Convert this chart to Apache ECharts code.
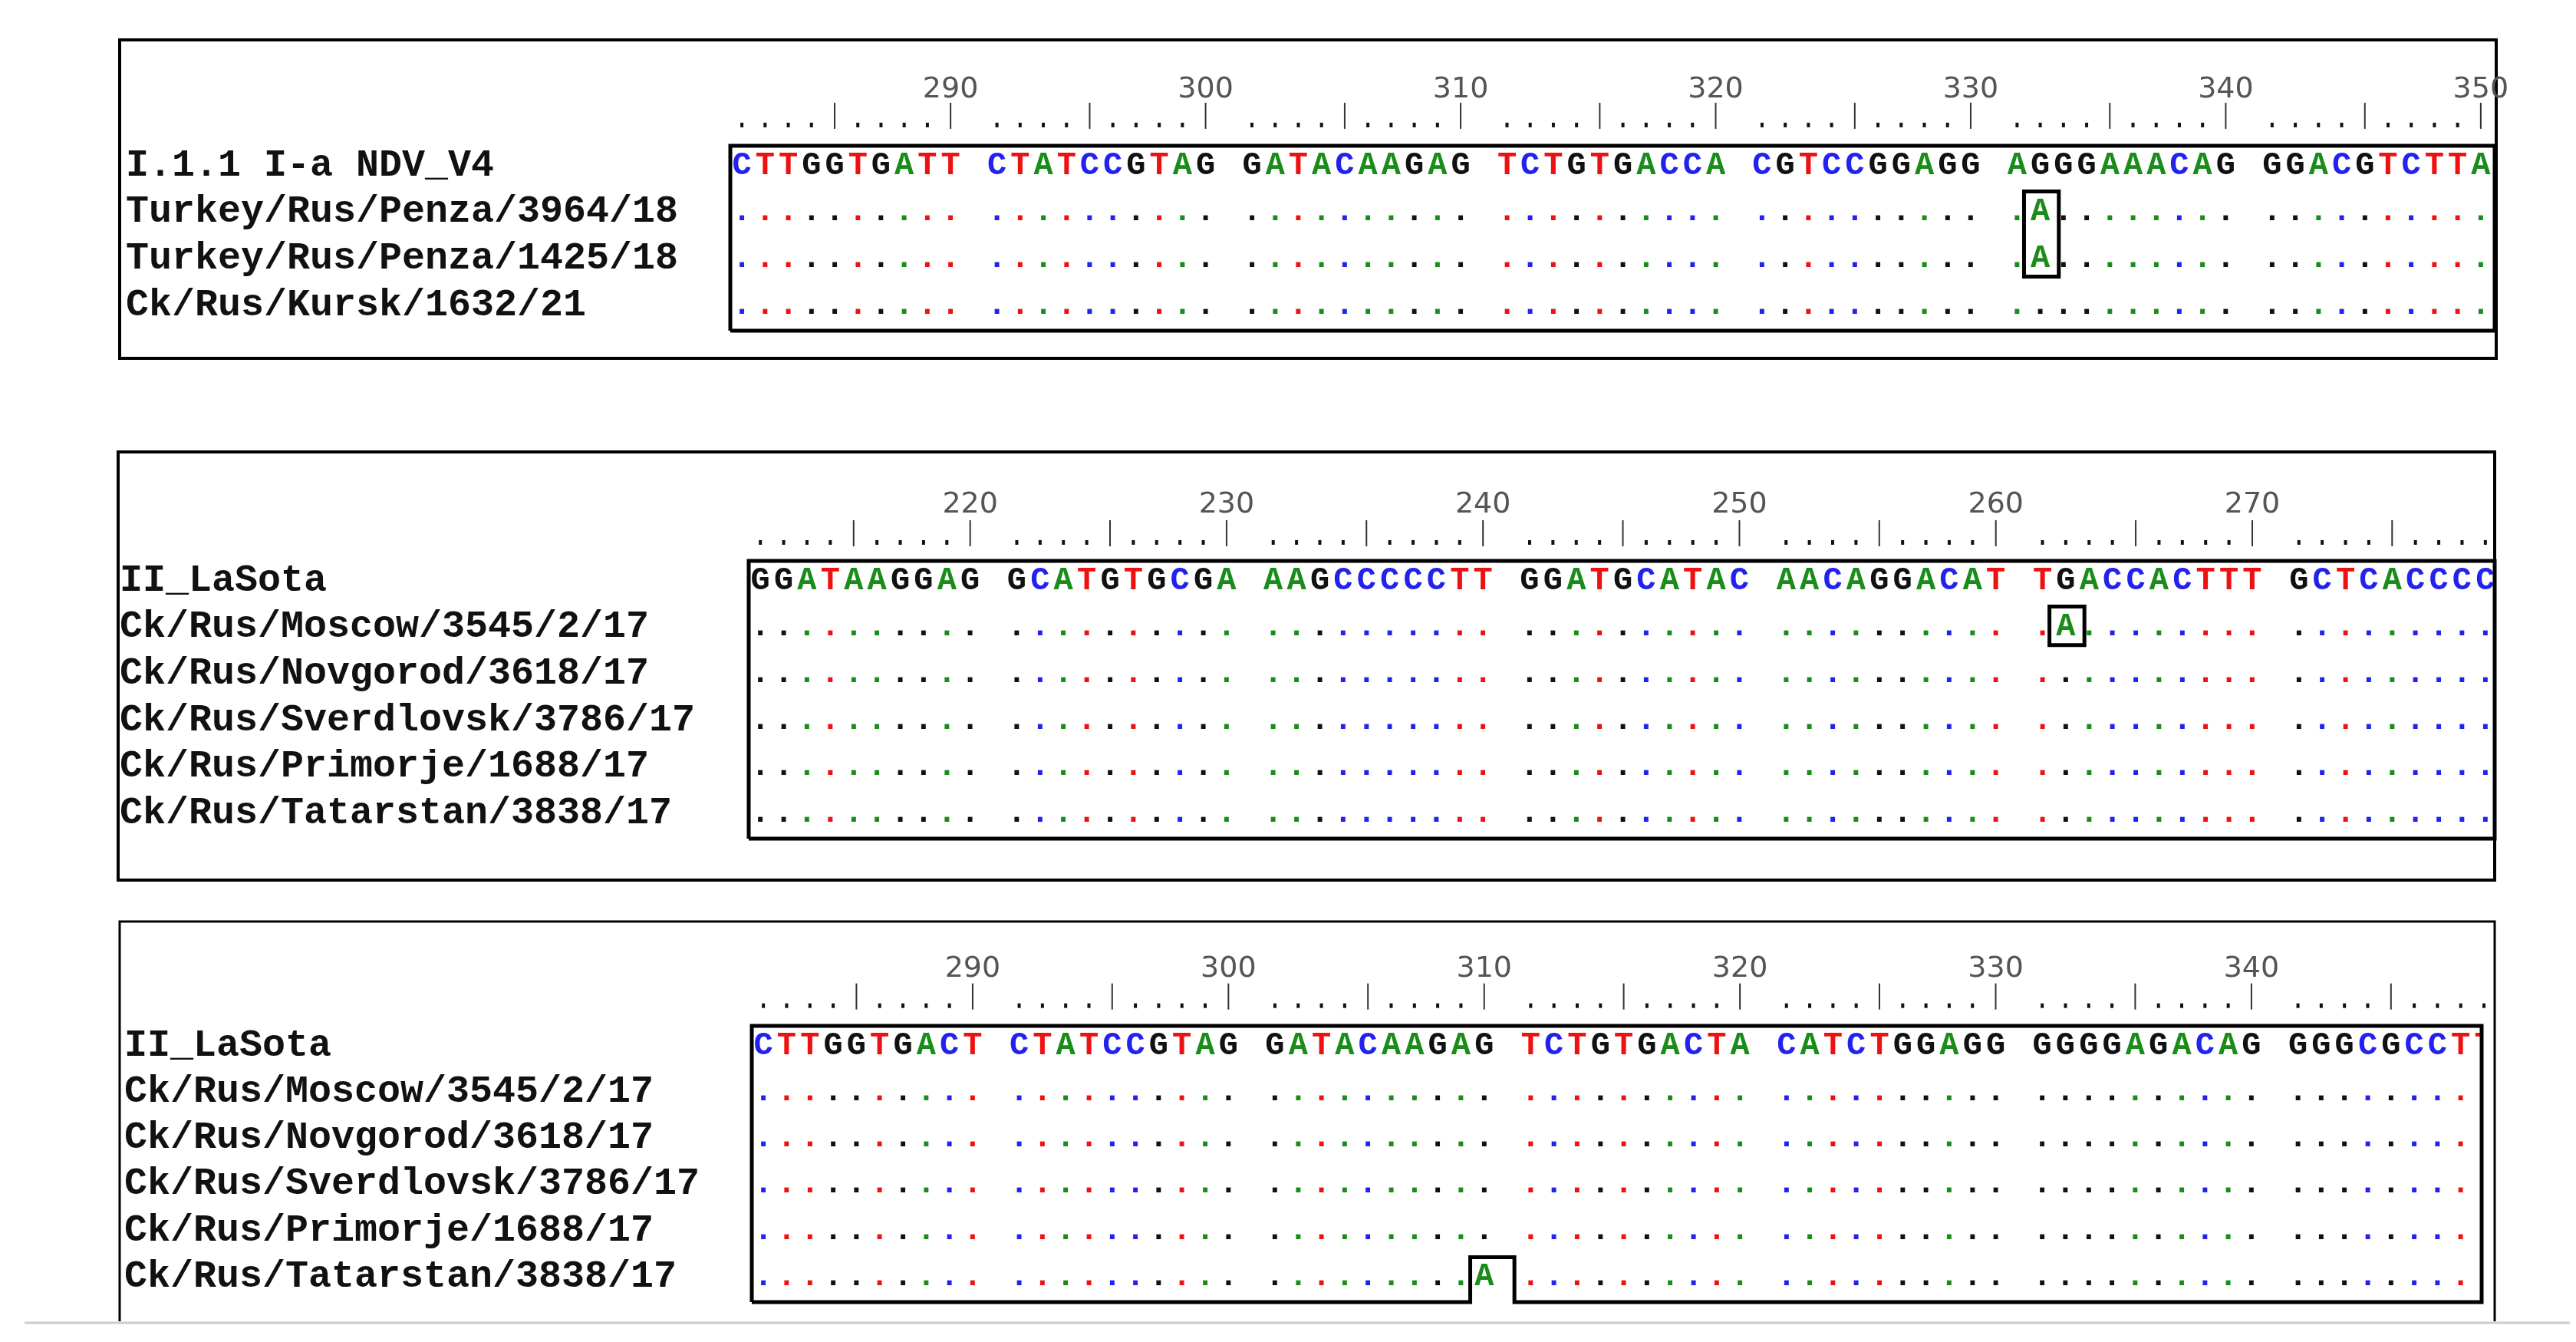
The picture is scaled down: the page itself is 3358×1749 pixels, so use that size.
<!DOCTYPE html>
<html>
<head>
<meta charset="utf-8">
<script src="https://cdn.jsdelivr.net/npm/echarts@6/dist/echarts.min.js"></script>
<style>html,body{margin:0;background:#fff}#chart{width:3358px;height:1749px}</style>
</head>
<body>
<div id="chart"></div>
<script>
// panel 1
const names1 = ['I.1.1 I-a NDV_V4', 'Turkey/Rus/Penza/3964/18', 'Turkey/Rus/Penza/1425/18', 'Ck/Rus/Kursk/1632/21'];
const start1 = 281;
const ref1 = 'CTTGGTGATTCTATCCGTAGGATACAAGAGTCTGTGACCACGTCCGGAGGAGGGAAACAGGGACGTCTTA';
const mut1 = [[1, 332, 'A'], [2, 332, 'A']];

// panel 2
const names2 = ['II_LaSota', 'Ck/Rus/Moscow/3545/2/17', 'Ck/Rus/Novgorod/3618/17', 'Ck/Rus/Sverdlovsk/3786/17', 'Ck/Rus/Primorje/1688/17', 'Ck/Rus/Tatarstan/3838/17'];
const start2 = 211;
const ref2 = 'GGATAAGGAGGCATGTGCGAAAGCCCCCTTGGATGCATACAACAGGACATTGACCACTTTGCTCACCCC';
const mut2 = [[1, 262, 'A']];

// panel 3
const names3 = names2;
const start3 = 281;
const ref3 = 'CTTGGTGACTCTATCCGTAGGATACAAGAGTCTGTGACTACATCTGGAGGGGGGAGACAGGGGCGCCTT';
const mut3 = [[5, 310, 'A']];

const baseColor = { A: '#1a8c1a', C: '#2222ee', G: '#111111', T: '#ee1111' };

const chart = echarts.init(document.getElementById('chart'));

const slotOf = (p, start) => (p - start) + Math.floor((p - start) / 10);

function panelSeries(idx, names, start, ref, muts, xmax, tickY, numY, lastPos, notch, nameX) {
  const seqData = [];
  names.forEach((n, r) => {
    for (let i = 0; i < ref.length; i++) {
      const p = start + i;
      const m = muts.find(mm => mm[0] === r && mm[1] === p);
      const ch = r === 0 ? ref[i] : (m ? m[2] : '.');
      seqData.push([slotOf(p, start), r, ch, m ? m[2] : ref[i]]);
    }
  });
  const tickData = [];
  for (let p = start; p <= lastPos; p++) tickData.push([slotOf(p, start), p]);
  const ymax = names.length - 1 + 0.54;
  const series = [];
  series.push({
    type: 'custom', xAxisIndex: idx, yAxisIndex: idx, data: seqData, clip: true,
    renderItem: (params, api) => {
      const pt = api.coord([api.value(0), api.value(1)]);
      const d = seqData[params.dataIndex];
      return { type: 'text', style: { x: pt[0], y: pt[1], text: d[2], fill: baseColor[d[3]],
        font: 'bold 42px "Liberation Mono"', align: 'center', verticalAlign: 'middle' } };
    }
  });
  series.push({
    type: 'custom', xAxisIndex: idx, yAxisIndex: idx, data: tickData, clip: false,
    renderItem: (params, api) => {
      const p = api.value(1);
      const pt = api.coord([api.value(0), tickY]);
      const children = [];
      if (p % 5 === 0) {
        children.push({ type: 'line', shape: { x1: pt[0], y1: pt[1] - 30, x2: pt[0], y2: pt[1] + 4 }, style: { stroke: '#333', lineWidth: 2 } });
      } else {
        children.push({ type: 'rect', shape: { x: pt[0] - 2, y: pt[1] - 4, width: 4, height: 6 }, style: { fill: '#111' } });
      }
      if (p % 10 === 0) {
        const np = api.coord([api.value(0), numY]);
        children.push({ type: 'text', style: { x: np[0], y: np[1], text: String(p), fill: '#555',
          font: '38px "DejaVu Sans"', align: 'center', verticalAlign: 'middle' } });
      }
      return { type: 'group', children };
    }
  });
  series.push({
    type: 'custom', xAxisIndex: idx, yAxisIndex: idx, data: names.map((n, r) => [0, r]), clip: false,
    renderItem: (params, api) => {
      const pt = api.coord([0, api.value(1)]);
      return { type: 'text', style: { x: nameX, y: pt[1], text: names[params.dataIndex], fill: '#111',
        font: 'bold 50px "Liberation Mono"', align: 'left', verticalAlign: 'middle' } };
    }
  });
  series.push({
    type: 'custom', xAxisIndex: idx, yAxisIndex: idx, data: [[0, 0]], clip: false,
    renderItem: (params, api) => {
      const c = (x, y) => api.coord([x, y]);
      const xmin = -0.5, ymin = -0.43;
      let pts = [c(xmin, ymax), c(xmin, ymin), c(xmax, ymin), c(xmax, ymax)];
      if (notch) {
        const s = slotOf(notch[1], start);
        const top = notch[0] - 0.43;
        pts = pts.concat([c(s + 1.3, ymax), c(s + 1.3, top), c(s - 0.6, top), c(s - 0.6, ymax)]);
      }
      pts.push(c(xmin, ymax));
      const children = [{ type: 'polyline', shape: { points: pts }, style: { stroke: '#000', lineWidth: 5, fill: null } }];
      muts.forEach(m => {
        if (notch && m[1] === notch[1]) return;
        const s = slotOf(m[1], start);
        const rows = muts.filter(mm => mm[1] === m[1]).map(mm => mm[0]);
        if (m[0] !== Math.min(...rows)) return;
        const a = c(s - 0.7, Math.min(...rows) - 0.45), b = c(s + 0.8, Math.max(...rows) + 0.38);
        children.push({ type: 'rect', shape: { x: a[0], y: a[1], width: b[0] - a[0], height: b[1] - a[1] }, style: { stroke: '#000', lineWidth: 5, fill: null } });
      });
      return { type: 'group', children };
    }
  });
  return { series, ymax };
}

const p1 = panelSeries(0, names1, start1, ref1, mut1, 75.6, -0.86, -1.63, 350, null, 164);
const p2 = panelSeries(1, names2, start2, ref2, mut2, 74.4, -0.81, -1.63, 279, null, 156);
const p3 = panelSeries(2, names3, start3, ref3, mut3, 73.9, -0.85, -1.66, 349, [5, 310], 162);

const hidden = { show: false };
const xAx = (i, min, max) => ({ type: 'value', gridIndex: i, min, max, show: false, splitLine: hidden });
const yAx = (i, max) => ({ type: 'value', gridIndex: i, min: -0.43, max, inverse: true, show: false, splitLine: hidden });

chart.setOption({
  animation: false,
  grid: [
    { left: 952, right: 3358 - 3252, top: 190, height: 241 },
    { left: 976, right: 3358 - 3252, top: 731, height: 362 },
    { left: 980, right: 3358 - 3235, top: 1337, height: 360 }
  ],
  xAxis: [xAx(0, -0.5, 75.6), xAx(1, -0.5, 74.4), xAx(2, -0.5, 73.9)],
  yAxis: [yAx(0, p1.ymax), yAx(1, p2.ymax), yAx(2, p3.ymax)],
  graphic: [
    { type: 'rect', shape: { x: 156, y: 52, width: 3098, height: 415 }, style: { stroke: '#000', lineWidth: 4, fill: null } },
    { type: 'rect', shape: { x: 154, y: 589, width: 3098, height: 558 }, style: { stroke: '#000', lineWidth: 4, fill: null } },
    { type: 'polyline', shape: { points: [[156, 1722], [156, 1201], [3252, 1201], [3252, 1722]] }, style: { stroke: '#000', lineWidth: 3, fill: null } },
    { type: 'line', shape: { x1: 32, y1: 1724, x2: 3350, y2: 1724 }, style: { stroke: '#ccc', lineWidth: 3 } }
  ],
  series: [...p1.series, ...p2.series, ...p3.series]
});

window.addEventListener('resize', () => chart.resize());
</script>
</body>
</html>
